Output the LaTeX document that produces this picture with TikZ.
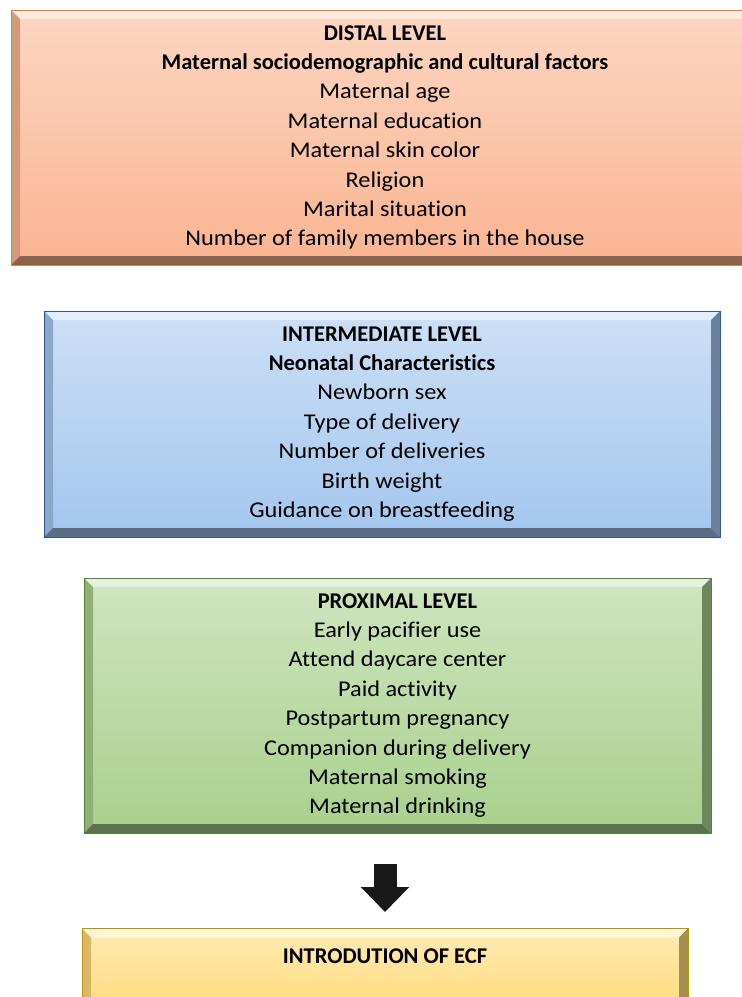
\documentclass[tikz,border=0pt]{standalone}
\usepackage{fontspec}
\setmainfont{Carlito}[Ligatures=NoCommon, FakeStretch=1.08, BoldFeatures={FakeStretch=1.0}]
\usepackage{xcolor}
\usepackage{tikz}
\usetikzlibrary{arrows.meta}

\definecolor{distal}{RGB}{250,180,145}
\definecolor{distaledge}{RGB}{237,125,49}
\definecolor{inter}{RGB}{164,198,238}
\definecolor{interedge}{RGB}{47,85,151}
\definecolor{prox}{RGB}{168,208,141}
\definecolor{proxedge}{RGB}{84,130,53}
\definecolor{ecf}{RGB}{255,218,120}
\definecolor{ecfedge}{RGB}{191,144,0}

\tikzset{
    bevel/.style={draw=#1edge, line width=1pt, top color=#1!55!white, bottom color=#1,
        align=center, font=\fontsize{22.5}{29.4}\selectfont,
        path picture={
            \path (path picture bounding box.north west) coordinate (bnw)
                  (path picture bounding box.north east) coordinate (bne)
                  (path picture bounding box.south west) coordinate (bsw)
                  (path picture bounding box.south east) coordinate (bse);
            \fill[#1!30!white] (bnw) -- (bne) -- ([shift={(-9pt,-9pt)}]bne) -- ([shift={(9pt,-9pt)}]bnw) -- cycle;
            \fill[#1!85!black] (bnw) -- ([shift={(9pt,-9pt)}]bnw) -- ([shift={(9pt,9pt)}]bsw) -- (bsw) -- cycle;
            \fill[#1!65!black] (bne) -- ([shift={(-9pt,-9pt)}]bne) -- ([shift={(-9pt,9pt)}]bse) -- (bse) -- cycle;
            \fill[#1!55!black] (bsw) -- ([shift={(9pt,9pt)}]bsw) -- ([shift={(-9pt,9pt)}]bse) -- (bse) -- cycle;
        }},
    blockarrow/.style={line width=23pt, color=black!90, -{Triangle[width=47pt,length=25pt]}}
}

\begin{document}
\begin{tikzpicture}[x=1pt,y=-1pt]
    \useasboundingbox (0,0) rectangle (742,997);
    \clip (0,0) rectangle (742,997);
    \node[bevel=distal, minimum width=748pt, minimum height=255pt] (distal) at (385,137.5)
        {\textbf{DISTAL LEVEL}\\ \textbf{Maternal sociodemographic and cultural factors}\\
         Maternal age\\ Maternal education\\ Maternal skin color\\ Religion\\
         Marital situation\\ Number of family members in the house};
    \node[bevel=inter, minimum width=676pt, minimum height=226pt] (inter) at (382,424)
        {\textbf{INTERMEDIATE LEVEL}\\ \textbf{Neonatal Characteristics}\\ Newborn sex\\
         Type of delivery\\ Number of deliveries\\ Birth weight\\ Guidance on breastfeeding};
    \node[bevel=prox, minimum width=627pt, minimum height=255pt] (prox) at (397.5,705.5)
        {\textbf{PROXIMAL LEVEL}\\ Early pacifier use\\ Attend daycare center\\ Paid activity\\
         Postpartum pregnancy\\ Companion during delivery\\ Maternal smoking\\ Maternal drinking};
    \node[bevel=ecf, minimum width=606pt, inner ysep=0pt, text height=35pt, text depth=52pt,
        anchor=north] (ecf) at (385,928) {\textbf{INTRODUTION OF ECF}};
    \draw[blockarrow, shorten <=30pt, shorten >=16pt] (ecf.north |- prox.south) -- (ecf.north);
\end{tikzpicture}
\end{document}
